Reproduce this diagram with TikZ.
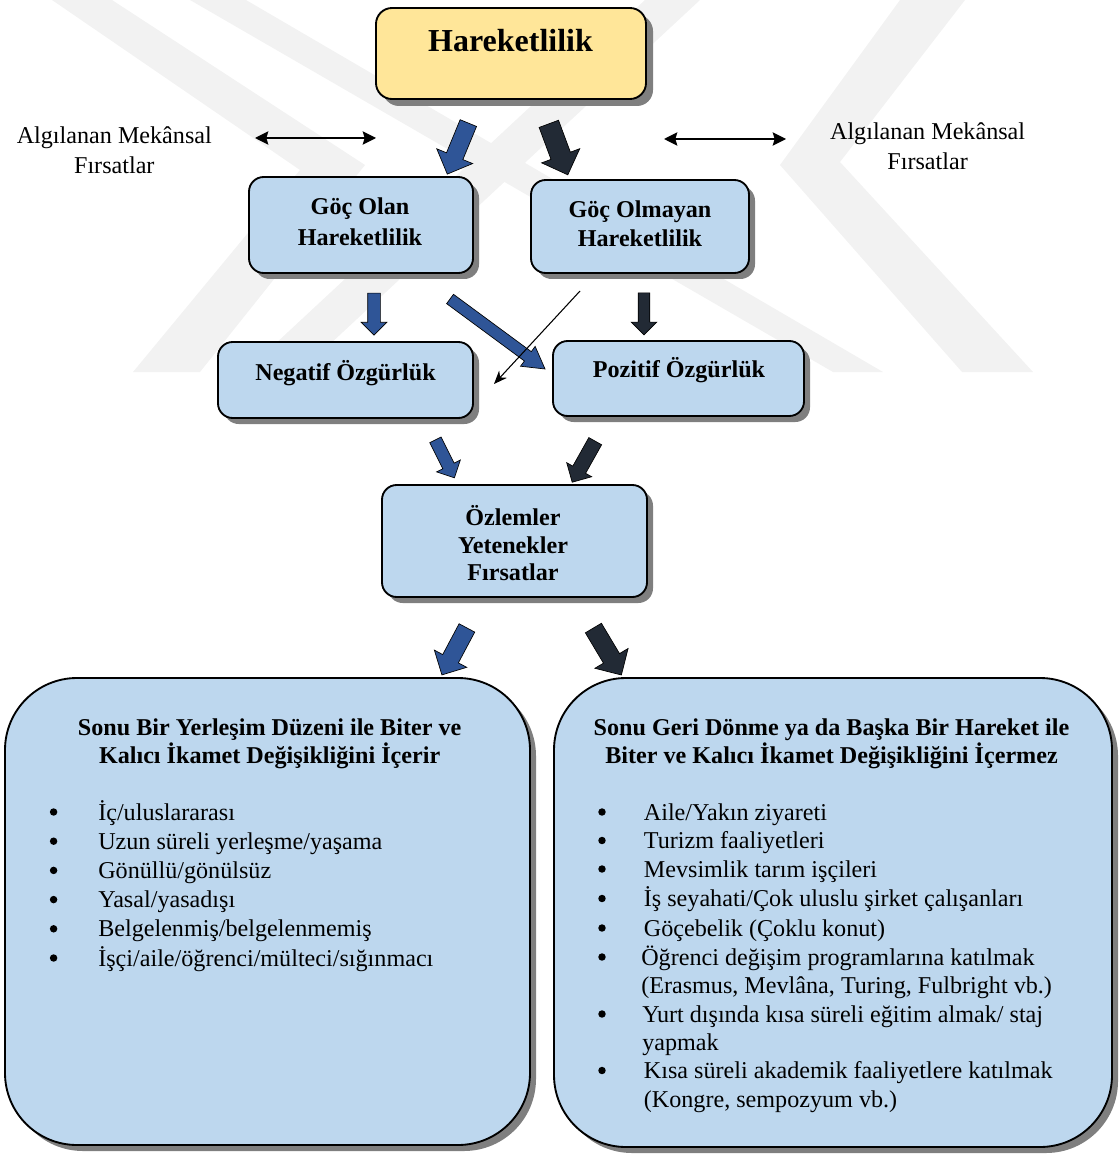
\documentclass[tikz,border=0pt]{standalone}
\usepackage{fontspec}
\setmainfont{Liberation Serif}
\usetikzlibrary{shapes.arrows,shadows,arrows.meta}
\definecolor{boxblue}{HTML}{BDD7EE}
\definecolor{boxyellow}{HTML}{FFE699}
\definecolor{arrblue}{HTML}{2F5597}
\definecolor{arrdark}{HTML}{222A35}
\definecolor{shadowgray}{HTML}{7F7F7F}
\definecolor{wmark}{HTML}{F2F2F2}
\begin{document}
\begin{tikzpicture}[x=0.75pt,y=-0.75pt,
  shadowed/.style={drop shadow={shadow xshift=4.5pt,shadow yshift=-4.5pt,fill=shadowgray,opacity=1}},
  box/.style={draw=black,line width=1.4pt,rounded corners=11pt,fill=boxblue,inner sep=0pt,shadowed},
  yellowbox/.style={box,fill=boxyellow,rounded corners=12pt,drop shadow={shadow xshift=5.25pt,shadow yshift=-5.25pt,fill=shadowgray,opacity=1}},
  bigbox/.style={box,rounded corners=54pt},
  lbl/.style={font=\fontsize{18.1}{22}\selectfont,inner sep=0pt,anchor=base},
  blbl/.style={lbl,font=\fontsize{18.1}{22}\selectfont\bfseries},
  itm/.style={lbl,anchor=base west},
  bul/.style={circle,fill=black,inner sep=0pt,minimum size=5.6pt},
  barrow/.style={single arrow,draw=black,line width=0.5pt,inner xsep=0pt,single arrow head indent=0pt},
  dbl/.style={line width=1.1pt,{Stealth[length=10pt,width=10pt,inset=1.5pt]}-{Stealth[length=10pt,width=10pt,inset=1.5pt]}}
]
\useasboundingbox (0,0) rectangle (1118,1155);
% watermark
\fill[wmark] (52,0) -- (112,0) -- (365,165) -- (200,372) -- (133,372) -- (300,170) -- cycle;
\fill[wmark] (190,0) -- (246,0) -- (883,372) -- (833,372) -- cycle;
\fill[wmark] (645,0) -- (700,0) -- (300,372) -- (245,372) -- cycle;
\fill[wmark] (900,0) -- (965,0) -- (840,162) -- (1033,372) -- (962,372) -- (780,165) -- cycle;

% top box
\node[yellowbox,minimum width=202.5pt,minimum height=68.25pt] (har) at (511,53.5) {};
\node[blbl,font=\fontsize{24}{28}\selectfont\bfseries] (hart) at (510.5,51.7) {Hareketlilik};

% side labels
\node[lbl] (algL1) at (114.3,143.3) {Algılanan Mekânsal};
\node[lbl] (algL2) at (114.3,174) {Fırsatlar};
\node[lbl] (algR1) at (927.6,139.3) {Algılanan Mekânsal};
\node[lbl] (algR2) at (927.6,170) {Fırsatlar};
\coordinate (dl1) at (255,138); \coordinate (dl2) at (376,138);
\coordinate (dr1) at (664,139); \coordinate (dr2) at (786,139);
\draw[dbl] (dl1) -- (dl2);
\draw[dbl] (dr1) -- (dr2);

% second row
\node[box,minimum width=168pt,minimum height=72pt] (goc) at (361,225) {};
\node[blbl] (goct1) at (360,215) {Göç Olan};
\node[blbl] (goct2) at (360,245.7) {Hareketlilik};
\node[box,minimum width=163.5pt,minimum height=69.75pt] (gocm) at (640,226.5) {};
\node[blbl] (gocmt1) at (640,217.3) {Göç Olmayan};
\node[blbl] (gocmt2) at (640,246.7) {Hareketlilik};

% third row
\node[box,minimum width=191.25pt,minimum height=57pt] (neg) at (345.5,380) {};
\node[blbl] (negt) at (345.5,380) {Negatif Özgürlük};
\node[box,minimum width=188.25pt,minimum height=56.25pt] (poz) at (678.5,378.5) {};
\node[blbl] (pozt) at (679,377.7) {Pozitif Özgürlük};

% fourth row
\node[box,minimum width=198.75pt,minimum height=84pt] (ozl) at (514.5,541) {};
\node[blbl] (ozlt1) at (513,525) {Özlemler};
\node[blbl] (ozlt2) at (513,553.3) {Yetenekler};
\node[blbl] (ozlt3) at (513,580) {Fırsatlar};

% block arrows
\node[barrow,fill=arrblue,inner ysep=6.4pt,minimum height=41.4pt,single arrow head extend=7.9pt,rotate=-112.4] (a1) at (459.5,144.5) {};
\node[barrow,fill=arrdark,inner ysep=7.5pt,minimum height=40.8pt,single arrow head extend=7.5pt,rotate=-69.6] (a2) at (556.5,144.5) {};
\node[barrow,fill=arrblue,inner ysep=4.5pt,minimum height=31.5pt,single arrow head extend=4.9pt,rotate=-90] (b1) at (374,311) {};
\node[barrow,fill=arrblue,inner ysep=4.1pt,minimum height=88.5pt,single arrow head extend=4.9pt,single arrow tip angle=60,rotate=-36.4] (b2) at (493.5,331) {};
\node[barrow,fill=arrdark,inner ysep=4.1pt,minimum height=31.5pt,single arrow head extend=5.2pt,rotate=-90] (b4) at (644,311) {};
\node[barrow,fill=arrblue,inner ysep=4.5pt,minimum height=31.9pt,single arrow head extend=5.25pt,rotate=-63.4] (c1) at (443.5,456) {};
\node[barrow,fill=arrdark,inner ysep=5.25pt,minimum height=35.3pt,single arrow head extend=5.25pt,rotate=-119.3] (c2) at (585.5,458.5) {};
\node[barrow,fill=arrblue,inner ysep=6.4pt,minimum height=39.9pt,single arrow head extend=7.1pt,rotate=-118] (d1) at (456.5,647.5) {};
\node[barrow,fill=arrdark,inner ysep=6.75pt,minimum height=41pt,single arrow head extend=7.5pt,rotate=-59.2] (d2) at (605,647.5) {};
\coordinate (b3s) at (580,291); \coordinate (b3e) at (494,384);
\draw[line width=0.8pt,-{Stealth[length=10pt,width=8pt]}] (b3s) -- (b3e);

% bottom boxes
\node[bigbox,minimum width=393.75pt,minimum height=350.25pt] (left) at (267.5,911.5) {};
\node[blbl] (lh1) at (269.6,735) {Sonu Bir Yerleşim Düzeni ile Biter ve};
\node[blbl] (lh2) at (269.6,763) {Kalıcı İkamet Değişikliğini İçerir};
\foreach \y/\t [count=\i] in {820/İç\slash uluslararası,849.2/Uzun süreli yerleşme\slash yaşama,878.4/Gönüllü\slash gönülsüz,907.6/Yasal\slash yasadışı,936.8/Belgelenmiş\slash belgelenmemiş,966/İşçi\slash aile\slash öğrenci\slash mülteci\slash sığınmacı}{
  \node[bul] (lb\i) at (53.6,\y-8) {};
  \node[itm] (li\i) at (98,\y) {\t};
}
\node[bigbox,minimum width=418.5pt,minimum height=351.75pt] (right) at (833,912.5) {};
\node[blbl] (rh1) at (831.5,735) {Sonu Geri Dönme ya da Başka Bir Hareket ile};
\node[blbl] (rh2) at (831.5,763) {Biter ve Kalıcı İkamet Değişikliğini İçermez};
\foreach \y [count=\i] in {820,848.5,877,906.5,936,965,1022,1078.5}{
  \node[bul] (rb\i) at (602,\y-8) {};
}
\node[itm] (ri1) at (643.6,820) {Aile/Yakın ziyareti};
\node[itm] (ri2) at (643.6,848.5) {Turizm faaliyetleri};
\node[itm] (ri3) at (643.6,877) {Mevsimlik tarım işçileri};
\node[itm] (ri4) at (643.6,906.5) {İş seyahati/Çok uluslu şirket çalışanları};
\node[itm] (ri5) at (643.6,936) {Göçebelik (Çoklu konut)};
\node[itm] (ri6) at (641,965) {Öğrenci değişim programlarına katılmak};
\node[itm] (ri6b) at (641,993.5) {(Erasmus, Mevlâna, Turing, Fulbright vb.)};
\node[itm] (ri7) at (642,1022) {Yurt dışında kısa süreli eğitim almak/ staj};
\node[itm] (ri7b) at (642,1050) {yapmak};
\node[itm] (ri8) at (643.6,1078.5) {Kısa süreli akademik faaliyetlere katılmak};
\node[itm] (ri8b) at (643.6,1107) {(Kongre, sempozyum vb.)};
\end{tikzpicture}
\end{document}
